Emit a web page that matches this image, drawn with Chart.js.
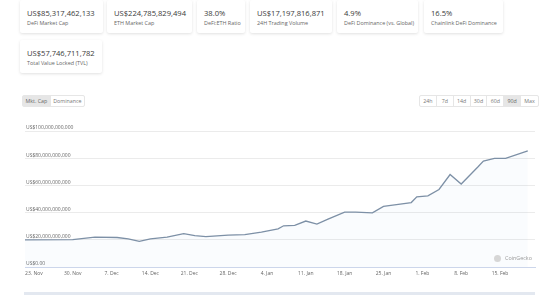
<!DOCTYPE html>
<html lang="en">
<head>
<meta charset="UTF-8">
<title>DeFi Market Cap</title>
<script src="https://cdn.jsdelivr.net/npm/chart.js"></script>
<style>
    body {
        margin: 0;
        width: 554px;
        height: 295px;
        overflow: hidden;
        background: #fff;
        font-family: "Open Sans", Arial, sans-serif;
        position: relative;
    }
    .card {
        position: absolute;
        height: 33px;
        background: #fff;
        box-shadow: 0 1px 3px rgba(0, 0, 0, 0.12);
        border-radius: 2px;
    }
    .card .v {
        position: absolute;
        left: 7px;
        top: 8.5px;
        font-size: 7.6px;
        line-height: 9px;
        color: #3a3a3a;
        white-space: nowrap;
    }
    .card .l {
        position: absolute;
        left: 7px;
        top: 19.5px;
        font-size: 5.4px;
        line-height: 7px;
        color: #666;
        white-space: nowrap;
    }
    .btns {
        position: absolute;
        top: 95px;
        height: 12px;
        display: flex;
        border: 1px solid #e6e6e6;
        box-sizing: border-box;
        border-radius: 2px;
        font-size: 5.3px;
        color: #777;
    }
    .btns span {
        display: flex;
        align-items: center;
        justify-content: center;
        border-left: 1px solid #e6e6e6;
    }
    .btns span:first-child { border-left: none; }
    .btns span.on { background: #e6e6e6; color: #666; }
    #wrap {
        position: absolute;
        left: 0;
        top: 115px;
        width: 554px;
        height: 180px;
    }
    .mark {
        position: absolute;
        left: 505px;
        top: 254px;
        font-size: 5.4px;
        line-height: 8px;
        color: #999;
    }
    .mark i {
        position: absolute;
        left: -11px;
        top: 0.5px;
        width: 7px;
        height: 7px;
        border-radius: 50%;
        background: #d6d6d6;
    }
    .nav {
        position: absolute;
        left: 24px;
        top: 292px;
        width: 511px;
        height: 3px;
        background: #e3e8f0;
    }
</style>
</head>
<body>

<div class="card" style="left:20px;top:0;width:83px"><div class="v">US$85,317,462,133</div><div class="l">DeFi Market Cap</div></div>
<div class="card" style="left:107px;top:0;width:85px"><div class="v">US$224,785,829,494</div><div class="l">ETH Market Cap</div></div>
<div class="card" style="left:197px;top:0;width:48px"><div class="v">38.0%</div><div class="l">DeFi:ETH Ratio</div></div>
<div class="card" style="left:250px;top:0;width:82px"><div class="v">US$17,197,816,871</div><div class="l">24H Trading Volume</div></div>
<div class="card" style="left:337px;top:0;width:81px"><div class="v">4.9%</div><div class="l">DeFi Dominance (vs. Global)</div></div>
<div class="card" style="left:424px;top:0;width:79px"><div class="v">16.5%</div><div class="l">Chainlink DeFi Dominance</div></div>
<div class="card" style="left:20px;top:40px;width:82px"><div class="v">US$57,746,711,782</div><div class="l">Total Value Locked (TVL)</div></div>

<div class="btns" style="left:22px;width:63px">
    <span class="on" style="width:28px">Mkt. Cap</span>
    <span style="width:35px">Dominance</span>
</div>
<div class="btns" style="left:419px;width:120px">
    <span style="width:17px">24h</span>
    <span style="width:17px">7d</span>
    <span style="width:17px">14d</span>
    <span style="width:17px">30d</span>
    <span style="width:17px">60d</span>
    <span class="on" style="width:17px">90d</span>
    <span style="width:18px">Max</span>
</div>

<div id="wrap"><canvas id="capChart"></canvas></div>
<div class="mark"><i></i>CoinGecko</div>
<div class="nav"></div>

<script>
    // day index counted from 23 Nov 2020, value in US$ billions
    const days = [-2, 7, 11, 15, 17, 19, 21, 24, 27, 29, 31, 35, 38, 41, 44, 45, 47, 49, 51, 53,
        56, 58, 61, 63, 65, 68, 69, 71, 73, 75, 77, 80, 81, 83, 85, 89];
    const marketCap = [20.0, 20.2, 21.9, 21.7, 20.7, 18.8, 20.7, 22.0, 24.5, 23.0, 22.3, 23.5, 23.8, 25.7, 28.0, 30.3, 30.6, 33.8, 31.6, 35.2,
        40.4, 40.4, 39.8, 44.6, 45.7, 47.4, 51.6, 52.3, 57.0, 68.0, 61.0, 73.5, 77.9, 79.8, 79.9, 85.3];

    const tickDays = [0, 7, 14, 21, 28, 35, 42, 49, 56, 63, 70, 77, 84];
    const tickLabels = ['23. Nov', '30. Nov', '7. Dec', '14. Dec', '21. Dec', '28. Dec', '4. Jan',
        '11. Jan', '18. Jan', '25. Jan', '1. Feb', '8. Feb', '15. Feb'];
    const yTicks = [0, 20, 40, 60, 80, 100];

    const points = days.map((d, i) => ({x: d, y: marketCap[i]}));

    function usd(v) {
        if (v === 0) return 'US$0.00';
        return 'US$' + (v * 1e9).toLocaleString('en-US');
    }

    new Chart(document.getElementById('capChart'), {
        type: 'line',
        data: {
            datasets: [{
                data: points,
                borderColor: '#7d90a6',
                borderWidth: 1.3,
                backgroundColor: 'rgba(120, 170, 220, 0.04)',
                fill: 'origin',
                pointRadius: 0,
                tension: 0
            }]
        },
        options: {
            responsive: true,
            maintainAspectRatio: false,
            animation: false,
            layout: {padding: {left: 23, right: 19, top: 16, bottom: 14}},
            plugins: {legend: {display: false}, tooltip: {enabled: false}},
            scales: {
                x: {
                    type: 'linear',
                    min: -1.6,
                    max: 90.3,
                    afterBuildTicks: axis => { axis.ticks = tickDays.map(v => ({value: v})); },
                    grid: {display: false, drawTicks: false},
                    border: {display: true, color: '#ccd6eb'},
                    ticks: {
                        autoSkip: false,
                        maxRotation: 0,
                        padding: 4,
                        color: '#666',
                        font: {family: 'Open Sans', size: 5},
                        callback: v => tickLabels[tickDays.indexOf(v)]
                    }
                },
                y: {
                    min: 0,
                    max: 100,
                    afterBuildTicks: axis => { axis.ticks = yTicks.map(v => ({value: v})); },
                    grid: {color: '#ebebeb', drawTicks: false},
                    border: {display: false},
                    ticks: {
                        mirror: true,
                        padding: 1,
                        labelOffset: -3,
                        color: '#666',
                        font: {family: 'Open Sans', size: 5},
                        callback: v => usd(v)
                    }
                }
            }
        }
    });
</script>
</body>
</html>
